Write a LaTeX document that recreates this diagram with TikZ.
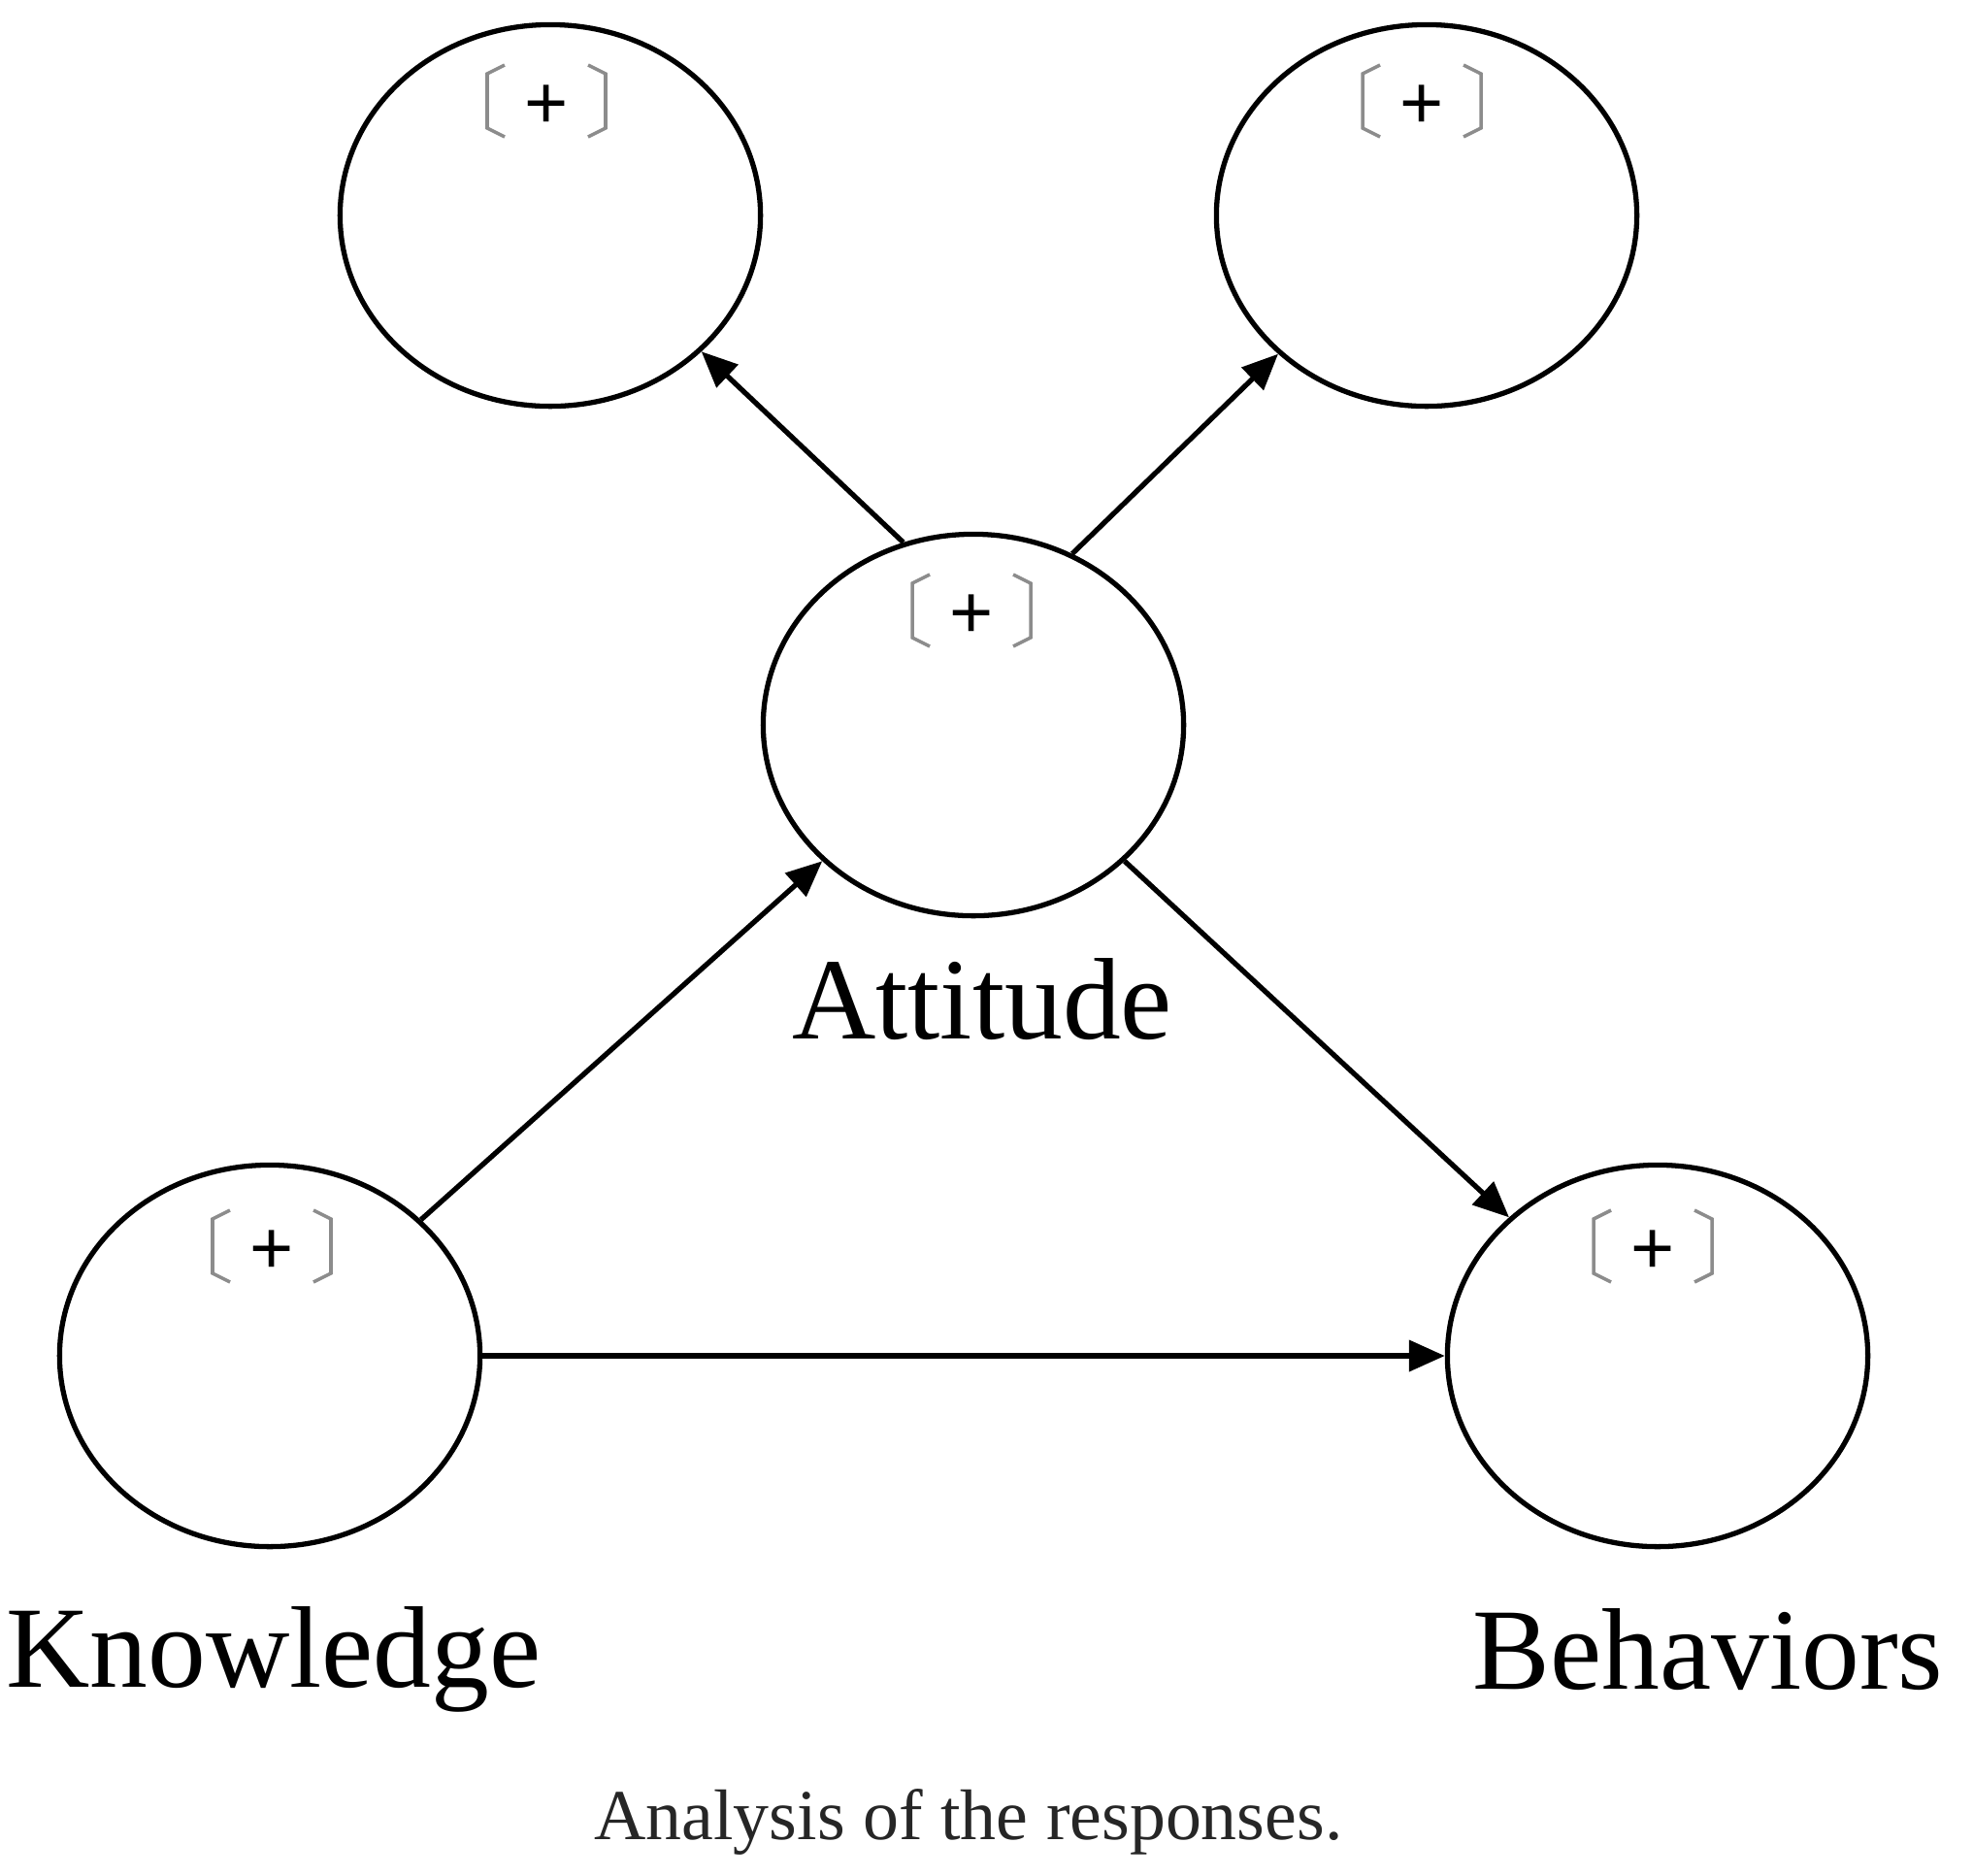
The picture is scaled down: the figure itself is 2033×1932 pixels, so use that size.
\documentclass[tikz,border=0pt]{standalone}
\usepackage{fontspec}
\setmainfont{Liberation Serif}
\newfontfamily\plusfont{Liberation Sans}
\usetikzlibrary{shapes.geometric,arrows.meta}
\begin{document}
\begin{tikzpicture}[x=0.01cm,y=-0.01cm,
  latent/.style={draw=black,line width=1.5pt,ellipse,minimum width=4.33cm,minimum height=3.93cm,inner sep=0pt},
  conn/.style={line width=1.5pt,-{Triangle[length=10.5pt,width=9pt]}},
  lbl/.style={anchor=base,inner sep=0pt,font=\fontsize{34}{40}\selectfont},
  captext/.style={anchor=base,inner sep=0pt,font=\fontsize{21}{26}\selectfont,text=black!85},
  plusmark/.pic={
    \draw[black!45,line width=1pt] (-43,-37) -- (-61,-28) -- (-61,28) -- (-43,37);
    \draw[black!45,line width=1pt] (43,-37) -- (61,-28) -- (61,28) -- (43,37);
    \node[anchor=base,inner sep=0pt,font=\plusfont\fontsize{22}{24}\selectfont] (p) at (0,28) {+};
  }]
\useasboundingbox (0,0) rectangle (2033,1932);
\fill[white] (0,0) rectangle (2033,1932);

\node[latent] (tl) at (567,222) {};
\node[latent] (tr) at (1470,222) {};
\node[latent] (att) at (1003,747) {};
\node[latent] (kn) at (278,1397) {};
\node[latent] (beh) at (1708,1397) {};

\pic (mtl) at (563,104) {plusmark};
\pic (mtr) at (1465,104) {plusmark};
\pic (matt) at (1001,629) {plusmark};
\pic (mkn) at (280,1284) {plusmark};
\pic (mbeh) at (1703,1284) {plusmark};

\draw[conn] (att.111.8) -- (tl.-42.5);
\draw[conn] (att.60) -- (tr.-137.8);
\draw[conn] (kn.42) -- (att.-138.3);
\draw[conn] (att.-42.4) -- (beh.137.6);
\draw[conn] (kn.east) -- (beh.west);

\node[lbl] (latt) at (1012,1070) {Attitude};
\node[lbl] (lkn) at (282,1738) {Knowledge};
\node[lbl] (lbeh) at (1760,1740) {Behaviors};
\node[captext] (caption) at (998,1895) {Analysis of the responses.};
\end{tikzpicture}
\end{document}
